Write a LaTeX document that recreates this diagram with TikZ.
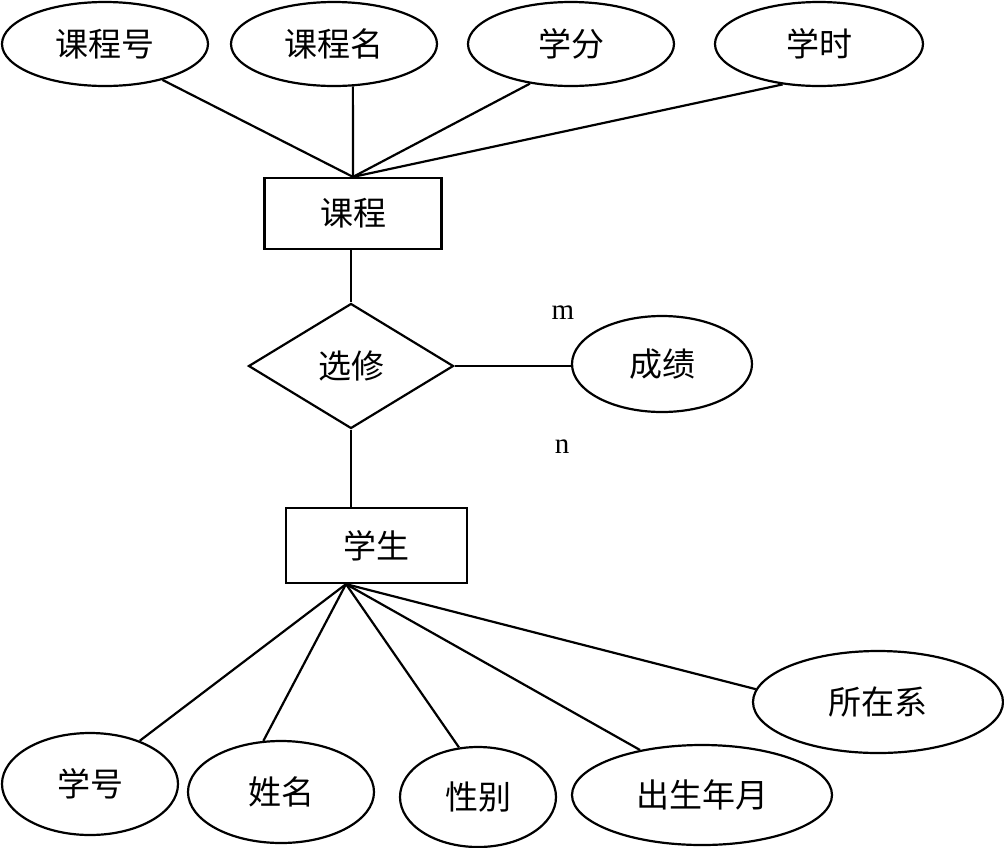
\documentclass[tikz,border=0pt]{standalone}
\usepackage{fontspec}
\setmainfont{Liberation Serif}
\newfontfamily\cjk{Noto Sans CJK SC}
\usetikzlibrary{shapes.geometric,calc}
\tikzset{
  attr/.style={draw, ellipse, inner sep=0pt, line width=2.2pt, font=\cjk\fontsize{33}{38}\selectfont},
  ent/.style={draw, rectangle, inner sep=0pt, line width=2.2pt, font=\cjk\fontsize{33}{38}\selectfont},
  rel/.style={draw, diamond, inner sep=0pt, line width=2.2pt, font=\cjk\fontsize{33}{38}\selectfont},
  conn/.style={line width=2.2pt},
  card/.style={inner sep=0pt, font=\fontsize{29}{33}\selectfont}
}
\begin{document}
\begin{tikzpicture}[x=1pt,y=-1pt]
\useasboundingbox (0,0) rectangle (1004,847);
% top attributes
\node[attr, minimum width=206pt, minimum height=84pt] (kch) at (105,44) {课程号};
\node[attr, minimum width=206pt, minimum height=84pt] (kcm) at (334,44) {课程名};
\node[attr, minimum width=206pt, minimum height=84pt] (xf) at (571,44) {学分};
\node[attr, minimum width=208pt, minimum height=84pt] (xsh) at (819,44) {学时};
% entity course
\node[ent, minimum width=177pt, minimum height=71pt] (kc) at (353,213.5) {课程};
% relationship
\node[rel, minimum width=205pt, minimum height=125pt, aspect=1.64] (xx) at (351,366) {选修};
\node[attr, minimum width=180pt, minimum height=96pt] (cj) at (662,364) {成绩};
\node[card] (m) at (563,313) {m};
\node[card] (n) at (562,447) {n};
% entity student
\node[ent, minimum width=181pt, minimum height=75pt] (xs) at (376.5,545.5) {学生};
\coordinate (xhub) at ($(xs.south)+(-30.5,0)$);
% bottom attributes
\node[attr, minimum width=176pt, minimum height=102pt] (xh) at (90,784) {学号};
\node[attr, minimum width=186pt, minimum height=102pt] (xm) at (281,792) {姓名};
\node[attr, minimum width=156pt, minimum height=100pt] (xb) at (478,797) {性别};
\node[attr, minimum width=260pt, minimum height=100pt] (csny) at (702,795) {出生年月};
\node[attr, minimum width=250pt, minimum height=102pt] (szx) at (878,702) {所在系};
% connectors
\draw[conn] (kch.-32.5) -- (kc.north);
\draw[conn] (kcm.-66) -- (kc.north);
\draw[conn] (xf.-136) -- (kc.north);
\draw[conn] (xsh.-132) -- (kc.north);
\draw[conn] (xx.north |- kc.south) -- (xx.north);
\draw[conn] (xx.east) -- (xx.east -| cj.west);
\draw[conn] (xx.south) -- (xx.south |- xs.north);
\draw[conn] (xhub) -- (xh.41.9);
\draw[conn] (xhub) -- (xm.109.8);
\draw[conn] (xhub) -- (xb.111.2);
\draw[conn] (xhub) -- (csny.144.5);
\draw[conn] (xhub) -- (szx.174);
\end{tikzpicture}
\end{document}
